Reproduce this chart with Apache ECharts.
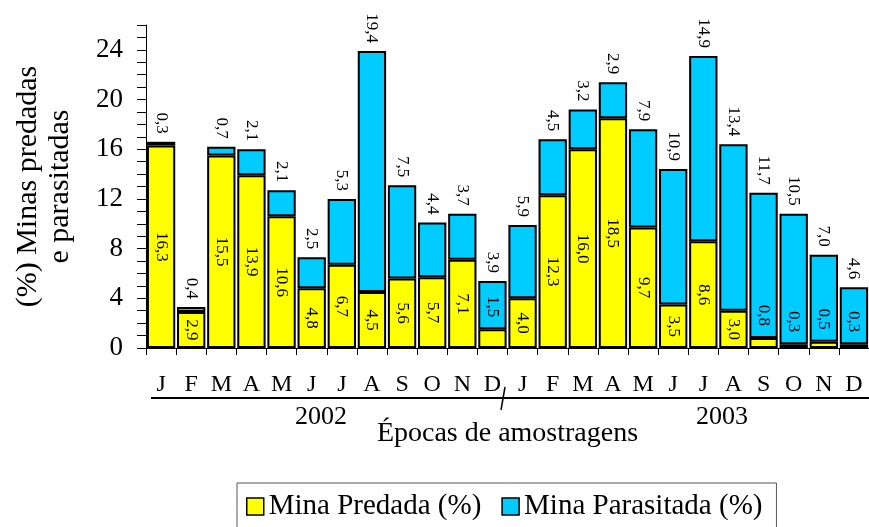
<!DOCTYPE html>
<html>
<head>
<meta charset="utf-8">
<script src="https://cdn.jsdelivr.net/npm/echarts@6/dist/echarts.min.js"></script>
<style>
html,body{margin:0;padding:0;background:#fff;}
#c{width:869px;height:527px;}
</style>
</head>
<body>
<div id="c"></div>
<script>
const months = ['J','F','M','A','M','J','J','A','S','O','N','D','J','F','M','A','M','J','J','A','S','O','N','D'];
const predada = [16.3, 2.9, 15.5, 13.9, 10.6, 4.8, 6.7, 4.5, 5.6, 5.7, 7.1, 1.5, 4.0, 12.3, 16.0, 18.5, 9.7, 3.5, 8.6, 3.0, 0.8, 0.3, 0.5, 0.3];
const parasitada = [0.3, 0.4, 0.7, 2.1, 2.1, 2.5, 5.3, 19.4, 7.5, 4.4, 3.7, 3.9, 5.9, 4.5, 3.2, 2.9, 7.9, 10.9, 14.9, 13.4, 11.7, 10.5, 7.0, 4.6];
const yearLabels = ['2002', '2003'];
const yTickStep = 4;

const FONT = '"Liberation Serif", "Times New Roman", serif';
const fmt = p => Number(p.value).toFixed(1).replace('.', ',');

const predadaData = predada.map(v => v < 2 ? {
  value: v,
  label: { position: 'top', distance: 12, align: 'right', verticalAlign: 'middle' }
} : v);

const chart = echarts.init(document.getElementById('c'), null, { renderer: 'canvas' });
chart.setOption({
  animation: false,
  backgroundColor: '#fff',
  grid: { left: 146, right: 0, top: 25, bottom: 179, containLabel: false },
  xAxis: {
    type: 'category',
    data: months,
    boundaryGap: true,
    axisLine: { lineStyle: { color: '#000', width: 1 } },
    axisTick: { show: true, length: 7, interval: 0, alignWithLabel: false, lineStyle: { color: '#000' } },
    axisLabel: { interval: 0, margin: 25, color: '#000', fontFamily: FONT, fontSize: 24 },
    name: 'Épocas de amostragens',
    nameLocation: 'middle',
    nameGap: 72,
    nameTextStyle: { color: '#000', fontFamily: FONT, fontSize: 28 }
  },
  yAxis: {
    type: 'value',
    min: 0, max: 26, interval: 1,
    splitLine: { show: false },
    axisLine: { show: true, lineStyle: { color: '#000', width: 1 } },
    axisTick: { show: true, length: 9, lineStyle: { color: '#000' } },
    axisLabel: {
      margin: 23, color: '#000', fontFamily: FONT, fontSize: 27,
      formatter: v => (v % yTickStep === 0 && v <= 24) ? String(v) : ''
    },
    name: '(%) Minas predadas\ne parasitadas',
    nameLocation: 'middle',
    nameGap: 70,
    nameRotate: 90,
    nameTextStyle: { color: '#000', fontFamily: FONT, fontSize: 30, lineHeight: 32, align: 'center' }
  },
  legend: {
    left: 237, top: 483,
    orient: 'horizontal',
    icon: 'rect',
    padding: [9, 14, 20, 9],
    itemWidth: 17, itemHeight: 17, itemGap: 20,
    borderColor: '#555', borderWidth: 1,
    textStyle: { color: '#000', fontFamily: FONT, fontSize: 29 },
    itemStyle: { borderColor: '#000', borderWidth: 1.5 },
    data: ['Mina Predada (%)', 'Mina Parasitada (%)']
  },
  series: [
    {
      name: 'Mina Predada (%)',
      type: 'bar',
      stack: 'total',
      barCategoryGap: '6%',
      data: predadaData,
      itemStyle: { color: '#FFFF00', borderColor: '#000', borderWidth: 2 },
      label: {
        show: true, position: 'inside', rotate: -90,
        color: '#000', fontFamily: FONT, fontSize: 17,
        formatter: fmt
      }
    },
    {
      name: 'Mina Parasitada (%)',
      type: 'bar',
      stack: 'total',
      barCategoryGap: '6%',
      data: parasitada,
      itemStyle: { color: '#00CCFF', borderColor: '#000', borderWidth: 2 },
      label: {
        show: true, position: 'top', distance: 8, rotate: -90,
        align: 'right', verticalAlign: 'middle',
        color: '#000', fontFamily: FONT, fontSize: 17,
        formatter: fmt
      }
    }
  ],
  graphic: [
    { type: 'line', shape: { x1: 151, y1: 398, x2: 869, y2: 398 }, style: { stroke: '#000', lineWidth: 2 } },
    { type: 'line', shape: { x1: 505, y1: 387, x2: 501, y2: 410 }, style: { stroke: '#000', lineWidth: 1.5 } },
    { type: 'text', x: 321, y: 417, style: { text: yearLabels[0], fill: '#000', font: '26px "Liberation Serif"', textAlign: 'center', textVerticalAlign: 'middle' } },
    { type: 'text', x: 722, y: 417, style: { text: yearLabels[1], fill: '#000', font: '26px "Liberation Serif"', textAlign: 'center', textVerticalAlign: 'middle' } }
  ]
});
</script>
</body>
</html>
